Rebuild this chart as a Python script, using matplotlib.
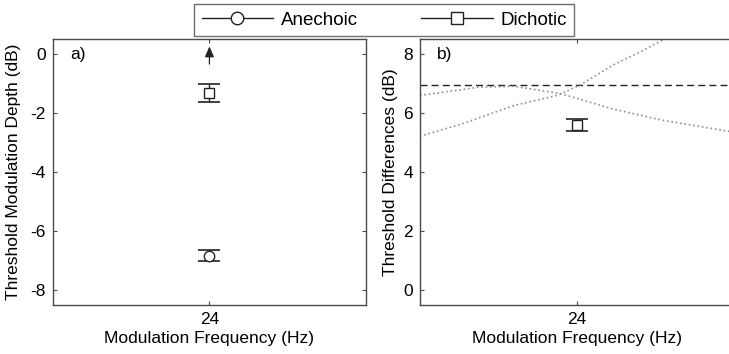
import matplotlib
matplotlib.use("Agg")
import matplotlib.pyplot as plt
from matplotlib.lines import Line2D

plt.rcParams['font.family'] = ['Liberation Sans', 'DejaVu Sans']
plt.rcParams['axes.unicode_minus'] = False
FS = 12.5

# ---- data ----
freq = [24]
xlims = [20, 28]
# panel a
anechoic_a = [-6.83]
anechoic_a_err = [0.19]
dichotic_a = [-1.32]
dichotic_a_err = [0.31]
arrow_a = (0.25, -0.35)  # tip, tail (dB)
# panel b
dichotic_b = [5.6]
dichotic_b_err = [0.2]
ref_level_b = 6.93
curve1_x = [20.0, 21.1, 22.4, 23.5, 24.1, 24.9, 25.6, 26.2]
curve1_y = [5.21, 5.64, 6.25, 6.59, 6.95, 7.60, 8.05, 8.47]
curve2_x = [20.0, 21.5, 22.4, 23.6, 24.9, 26.2, 28.0]
curve2_y = [6.59, 6.87, 6.90, 6.65, 6.14, 5.75, 5.35]

spine_c = '#4a4a4a'
mk_c = '#222222'

fig = plt.figure(figsize=(7.29, 3.54), dpi=100)
axa = fig.add_axes([0.0723, 0.1384, 0.430, 0.7514])
axb = fig.add_axes([0.576, 0.1384, 0.430, 0.7514])

def style(ax):
    for s in ax.spines.values():
        s.set_color(spine_c)
        s.set_linewidth(1.0)
    ax.tick_params(direction='in', length=3, width=0.8, color=spine_c,
                   top=True, right=True, labelsize=FS, pad=5)
    ax.set_xlim(*xlims)
    ax.set_xticks(freq)
    ax.set_xticklabels([str(f) for f in freq])
    ax.set_xlabel('Modulation Frequency (Hz)', fontsize=FS, labelpad=3)

# panel a
style(axa)
axa.set_ylim(-8.5, 0.5)
axa.set_yticks([0, -2, -4, -6, -8])
axa.set_ylabel('Threshold Modulation Depth (dB)', fontsize=FS, labelpad=7)
axa.errorbar(freq, anechoic_a, yerr=anechoic_a_err, fmt='o', color=mk_c,
             mfc='white', mec=mk_c, ms=7.5, capsize=8, elinewidth=1.0, capthick=1.2)
axa.errorbar(freq, dichotic_a, yerr=dichotic_a_err, fmt='s', color=mk_c,
             mfc='white', mec=mk_c, ms=7.5, capsize=8, elinewidth=1.0, capthick=1.2)
axa.annotate('', xy=(freq[0], arrow_a[0]), xytext=(freq[0], arrow_a[1]),
             arrowprops=dict(arrowstyle='-|>,head_length=0.7,head_width=0.3',
                             color=mk_c, lw=0.9, shrinkA=0, shrinkB=0,
                             mutation_scale=9))
axa.text(0.055, 0.94, 'a)', transform=axa.transAxes, fontsize=FS, va='center')

# panel b
style(axb)
axb.set_ylim(-0.5, 8.5)
axb.set_yticks([0, 2, 4, 6, 8])
axb.set_ylabel('Threshold Differences (dB)', fontsize=FS, labelpad=4)
axb.axhline(ref_level_b, color=mk_c, lw=1.0, ls=(0, (5, 3)))
axb.plot(curve1_x, curve1_y, ls=':', color='#8f8f8f', lw=1.2)
axb.plot(curve2_x, curve2_y, ls=':', color='#8f8f8f', lw=1.2)
axb.errorbar(freq, dichotic_b, yerr=dichotic_b_err, fmt='s', color=mk_c,
             mfc='white', mec=mk_c, ms=7.5, capsize=8, elinewidth=1.0, capthick=1.2)
axb.text(0.055, 0.94, 'b)', transform=axb.transAxes, fontsize=FS, va='center')

handles = [
    Line2D([], [], color=mk_c, lw=1.0, marker='o', mfc='white', mec=mk_c, ms=9),
    Line2D([], [], color=mk_c, lw=1.0, marker='s', mfc='white', mec=mk_c, ms=8),
]
leg = fig.legend(handles, ['Anechoic', 'Dichotic'], loc='center',
                 bbox_to_anchor=(0.527, 0.943), ncol=2, fontsize=13.5,
                 frameon=True, fancybox=False, handlelength=3.8,
                 handletextpad=0.4, columnspacing=3.4, borderpad=0.4,
                 borderaxespad=0)
leg.get_frame().set_edgecolor(spine_c)
leg.get_frame().set_linewidth(1.0)

fig.savefig('out.png', dpi=100)
